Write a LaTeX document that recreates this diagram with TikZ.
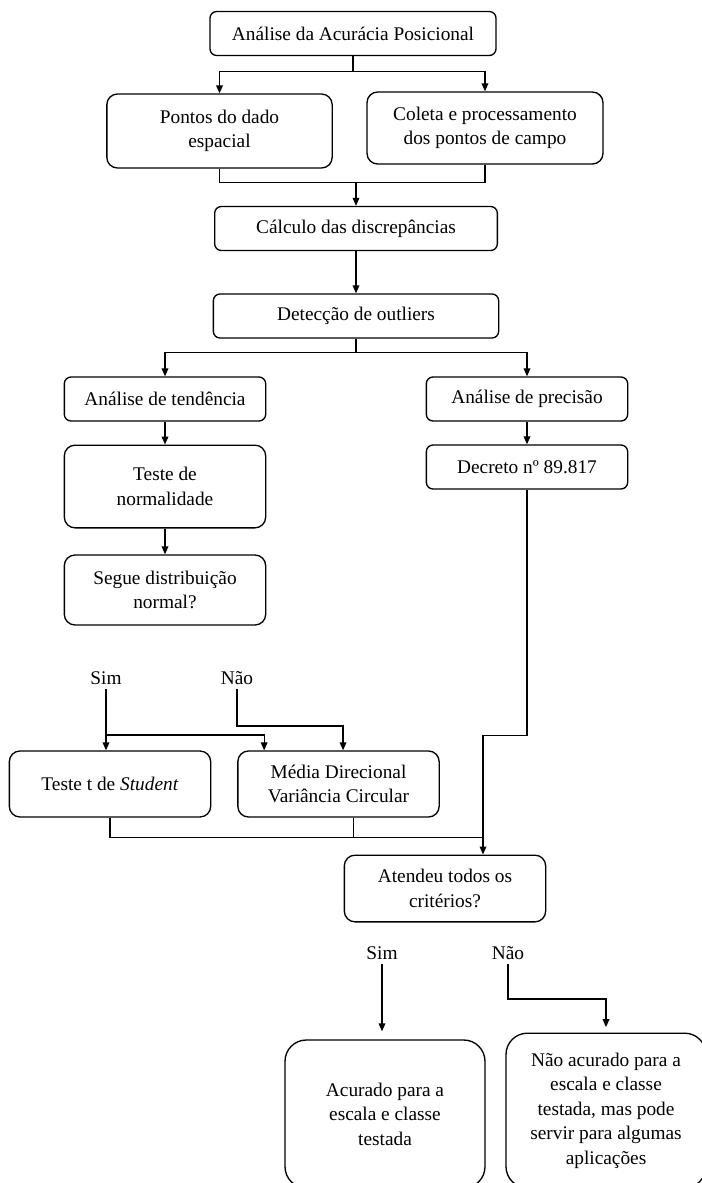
\documentclass[tikz,border=0pt]{standalone}
\usepackage{fontspec}
\setmainfont{Liberation Serif}
\usetikzlibrary{positioning, arrows.meta}

\begin{document}
\begin{tikzpicture}[
    x=0.75pt, y=-0.75pt,
    box/.style={rectangle, draw, rounded corners=5pt, line width=1pt,
                minimum width=151pt, minimum height=33pt,
                align=center, inner sep=2pt,
                font=\fontsize{14.5}{18.4}\selectfont},
    roundbox/.style={box, rounded corners=8pt},
    endbox/.style={box, rounded corners=16pt, minimum width=150pt},
    arrow/.style={-{Triangle[length=6pt, width=5pt]}, line width=1pt},
    line/.style={line width=1pt},
    answer/.style={font=\fontsize{14.5}{18.4}\selectfont, inner sep=3pt}
]
  \useasboundingbox (0,0) rectangle (702,1183);

  % Top: start and the two inputs
  \node[box, minimum width=214.5pt] (acur) at (353,33.5) {Análise da Acurácia Posicional};
  \node[roundbox, minimum width=169pt, minimum height=55.5pt] (pontos) at (219.5,131)
    {Pontos do dado\\espacial};
  \node[roundbox, minimum width=177pt, minimum height=54pt] (coleta) at (485,128)
    {Coleta e processamento\\dos pontos de campo};

  % Middle column
  \node[box, minimum width=212pt] (calc) at (356,228.5) {Cálculo das discrepâncias};
  \node[box, minimum width=214pt] (outl) at (356,316) {Detecção de outliers};

  % Left branch: trend
  \node[box] (tend) at (165,399) {Análise de tendência};
  \node[roundbox, minimum height=62pt] (norm) at (165,486.5) {Teste de\\normalidade};
  \node[roundbox, minimum height=52.5pt] (segue) at (165,590) {Segue distribuição\\normal?};

  % Right branch: precision
  \node[box] (prec) at (527,399) {Análise de precisão};
  \node[box] (decr) at (527,467) {Decreto nº 89.817};

  % Normality answers
  \node[answer] (sim1) at (106,678) {Sim};
  \node[answer] (nao1) at (237,678) {Não};
  \node[roundbox, minimum height=49.5pt] (stud) at (110,784) {Teste t de \textit{Student}};
  \node[roundbox, minimum height=49.5pt] (circ) at (338.5,784) {Média Direcional\\Variância Circular};

  % Final decision
  \node[roundbox, minimum height=50pt] (crit) at (445,888.5) {Atendeu todos os\\critérios?};
  \node[answer] (sim2) at (382,953) {Sim};
  \node[answer] (nao2) at (508,953) {Não};
  \node[endbox, minimum height=111pt] (acurado) at (385,1114)
    {Acurado para a\\escala e classe\\testada};
  \node[endbox, minimum height=116pt] (naoacur) at (606,1110.5)
    {Não acurado para a\\escala e classe\\testada, mas pode\\servir para algumas\\aplicações};

  % Arrows
  \draw[line] (acur.south) -- ++(0,15) coordinate (s1);
  \draw[arrow] (s1) -| (pontos.north);
  \draw[arrow] (s1) -| (coleta.north);
  \draw[line] (pontos.south) -- ++(0,14) coordinate (m1) -| (coleta.south);
  \draw[arrow] (calc.north |- m1) -- (calc.north);
  \draw[arrow] (calc) -- (outl);

  \draw[line] (outl.south) -- ++(0,14) coordinate (s2);
  \draw[arrow] (s2) -| (tend.north);
  \draw[arrow] (s2) -| (prec.north);
  \draw[arrow] (tend) -- (norm);
  \draw[arrow] (norm) -- (segue);
  \draw[arrow] (prec) -- (decr);

  \draw[arrow] (sim1.south) -- (sim1.south |- stud.north);
  \draw[arrow] (sim1.south |- 0,735) -| ([xshift=20.25pt]circ.north west);
  \draw[arrow] (nao1.south) -- (nao1.south |- 0,726) -| ([xshift=3.4pt]circ.north);

  \draw[line] (stud.south) -- ++(0,20) coordinate (m2) -- ([xshift=28.5pt]crit.north |- m2);
  \draw[line] ([xshift=11pt]circ.south) -- ([xshift=11pt]circ.south |- m2);
  \draw[arrow] (decr.south) -- ++(0,246) -| ([xshift=28.5pt]crit.north);

  \draw[arrow, shorten >=6pt] (sim2.south) -- (sim2.south |- acurado.north);
  \draw[arrow, shorten >=4pt] (nao2.south) -- (nao2.south |- 0,999) -| (naoacur.north);
\end{tikzpicture}
\end{document}
